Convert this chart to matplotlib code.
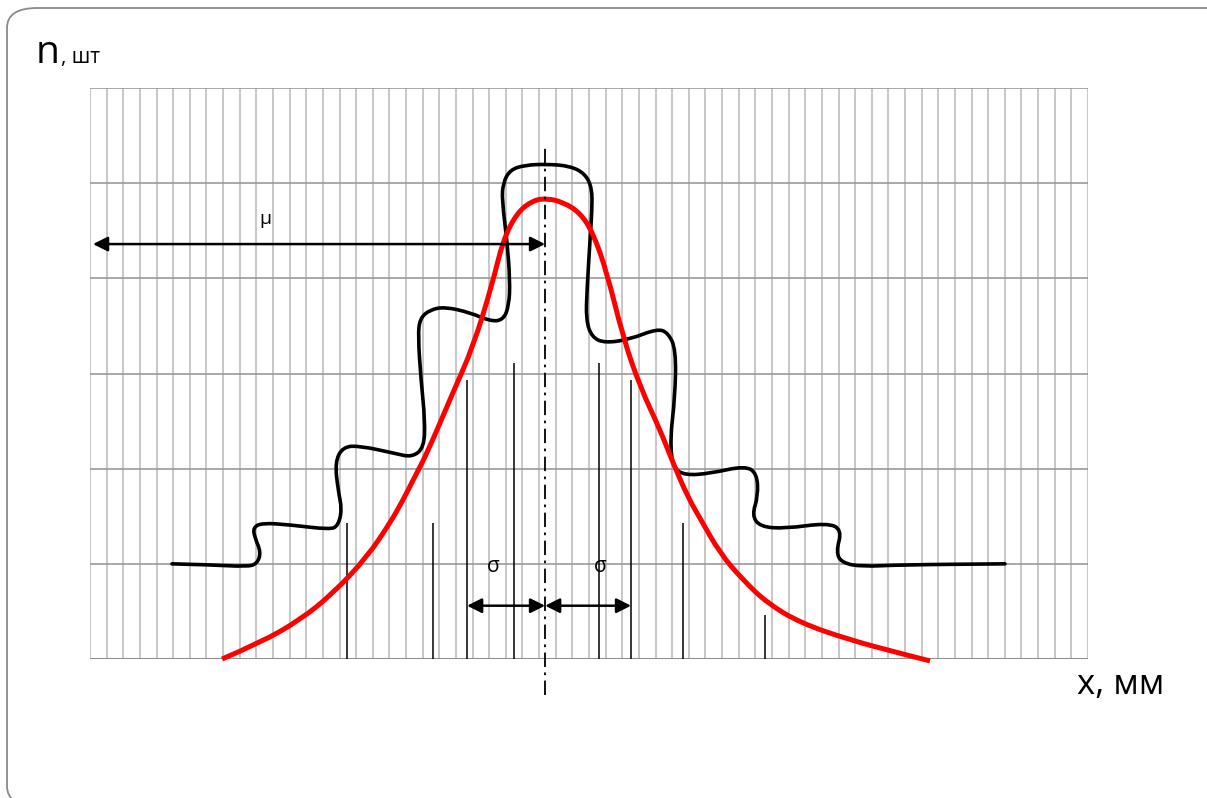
"""
Distribution sketch: empirical histogram outline vs normal curve, with mu / sigma marks.
"""
import matplotlib.pyplot as plt
from matplotlib.patches import FancyBboxPatch, PathPatch
from matplotlib.path import Path

plt.rcParams["font.family"] = ["Open Sans", "DejaVu Sans"]

# grid: 60 columns x 6 rows
N_COLS = 60
N_ROWS = 6

# black empirical outline (x, y in grid units) - has overhangs, so kept as a path
emp_x = [4.93, 7.21, 9.44, 10.04, 10.28, 9.92, 9.80, 10.34, 12.02, 14.43,
         14.91, 15.15, 14.91, 14.73, 15.21, 16.23, 18.34, 19.36, 20.08, 20.14,
         19.90, 19.72, 19.84, 20.44, 21.34, 22.85, 24.05, 24.83, 25.19, 25.25,
         25.07, 24.77, 24.83, 25.25, 26.15, 27.48, 28.86, 29.76, 30.18, 30.18,
         30.06, 29.88, 29.82, 30.18, 30.96, 32.47, 34.09, 34.75, 35.23, 35.17,
         34.87, 35.05, 35.77, 37.28, 39.38, 40.10, 40.16, 39.80, 40.28, 41.78,
         44.31, 45.21, 44.85, 45.21, 46.41, 48.70, 55.01]
emp_y = [1.00, 0.99, 0.97, 1.00, 1.12, 1.27, 1.38, 1.43, 1.41, 1.36,
         1.40, 1.57, 1.78, 2.07, 2.23, 2.24, 2.16, 2.12, 2.22, 2.51,
         2.93, 3.40, 3.58, 3.67, 3.70, 3.64, 3.55, 3.56, 3.71, 3.98,
         4.40, 4.82, 5.00, 5.14, 5.19, 5.20, 5.18, 5.10, 4.95, 4.72,
         4.40, 3.88, 3.56, 3.38, 3.32, 3.36, 3.47, 3.43, 3.25, 2.75,
         2.30, 2.01, 1.93, 1.95, 2.03, 1.95, 1.71, 1.51, 1.39, 1.37,
         1.43, 1.36, 1.12, 1.01, 0.97, 0.99, 1.00]

# red normal-like curve
norm_x = [7.94, 10.22, 12.63, 14.61, 16.65, 18.04, 18.82, 19.54, 20.26, 21.82,
          23.03, 24.17, 24.83, 25.67, 26.63, 27.48, 28.44, 29.46, 30.24, 31.08,
          32.05, 33.07, 34.27, 35.05, 35.95, 36.67, 37.88, 39.26, 40.70, 42.69,
          45.69, 48.70, 50.50]
norm_y = [0.00, 0.17, 0.41, 0.69, 1.07, 1.43, 1.67, 1.92, 2.16, 2.80,
          3.28, 3.93, 4.40, 4.69, 4.82, 4.84, 4.80, 4.69, 4.48, 4.06,
          3.38, 2.86, 2.41, 2.06, 1.70, 1.48, 1.11, 0.83, 0.59, 0.38,
          0.20, 0.06, -0.02]

# thin vertical marks
mark_x = [15.45, 20.62, 22.67, 25.49, 30.60, 32.53, 35.65, 40.58]
mark_top = [1.43, 1.43, 2.93, 3.11, 3.11, 2.93, 1.43, 0.46]

mu = 27.36
sigma_left = 22.67
sigma_right = 32.53


def smooth_path(xs, ys):
    """Quadratic-bezier path through midpoints, read points act as controls."""
    pts = list(zip(xs, ys))
    verts = [pts[0]]
    codes = [Path.MOVETO]
    for i in range(1, len(pts) - 1):
        mid = ((pts[i][0] + pts[i + 1][0]) / 2, (pts[i][1] + pts[i + 1][1]) / 2)
        verts += [pts[i], mid]
        codes += [Path.CURVE3, Path.CURVE3]
    verts.append(pts[-1])
    codes.append(Path.LINETO)
    return Path(verts, codes)


fig = plt.figure(figsize=(12.07, 7.98), dpi=100)
ax = fig.add_axes([90 / 1207, 1 - 659 / 798, 998 / 1207, 571 / 798])
ax.set_xlim(0, N_COLS)
ax.set_ylim(0, N_ROWS)

# grid
for i in range(N_COLS + 1):
    ax.axvline(i, color="#b8b8b8", lw=1.1, zorder=0)
for j in range(1, N_ROWS + 1):
    ax.axhline(j, color="#9a9a9a", lw=1.2, zorder=0)
ax.axhline(0, color="#8c8c8c", lw=1.4, zorder=0)
ax.set_xticks([])
ax.set_yticks([])
for s in ax.spines.values():
    s.set_visible(False)

# vertical marks
ax.vlines(mark_x, 0, mark_top, color="black", lw=1.1, zorder=2)

# curves
ax.add_patch(PathPatch(smooth_path(emp_x, emp_y), fill=False, edgecolor="black",
                       lw=2.6, capstyle="round", joinstyle="round", zorder=3))
ax.add_patch(PathPatch(smooth_path(norm_x, norm_y), fill=False, edgecolor="#ff0000",
                       lw=3.6, joinstyle="round", zorder=4, clip_on=False))

# mean line
ax.plot([mu, mu], [-0.38, 5.37], color="black", lw=1.3,
        linestyle=(0, (8, 3, 1.5, 3)), zorder=5, clip_on=False)

# mu arrow
ax.annotate("", xy=(0.18, 4.36), xytext=(mu, 4.36),
            arrowprops=dict(arrowstyle="<|-|>", color="black", lw=1.8,
                            mutation_scale=22, shrinkA=0, shrinkB=0), zorder=6)
ax.text(10.52, 4.53, "μ", fontsize=14, ha="center", va="bottom")

# sigma arrows
for a, b in [(sigma_left, mu), (mu, sigma_right)]:
    ax.annotate("", xy=(a, 0.56), xytext=(b, 0.56),
                arrowprops=dict(arrowstyle="<|-|>", color="black", lw=1.8,
                                mutation_scale=22, shrinkA=0, shrinkB=0), zorder=6)
ax.text(24.23, 0.86, "σ", fontsize=15, ha="center", va="bottom")
ax.text(30.66, 0.86, "σ", fontsize=15, ha="center", va="bottom")

# labels
fig.text(36 / 1207, 1 - 63 / 798, "n", fontsize=28, ha="left", va="baseline")
fig.text(61 / 1207, 1 - 63 / 798, ", шт", fontsize=15, ha="left", va="baseline")
fig.text(1077 / 1207, 1 - 694 / 798, "x, мм", fontsize=25, ha="left", va="baseline")

# rounded frame
frame = FancyBboxPatch((7 / 1207, -0.01), 1.02, 1 - 8 / 798 + 0.01,
                       boxstyle="round,pad=0,rounding_size=0.025",
                       transform=fig.transFigure, fill=False,
                       edgecolor="#8a8a8a", lw=1.3, clip_on=False)
fig.patches.append(frame)

fig.savefig("out.png", dpi=100)
